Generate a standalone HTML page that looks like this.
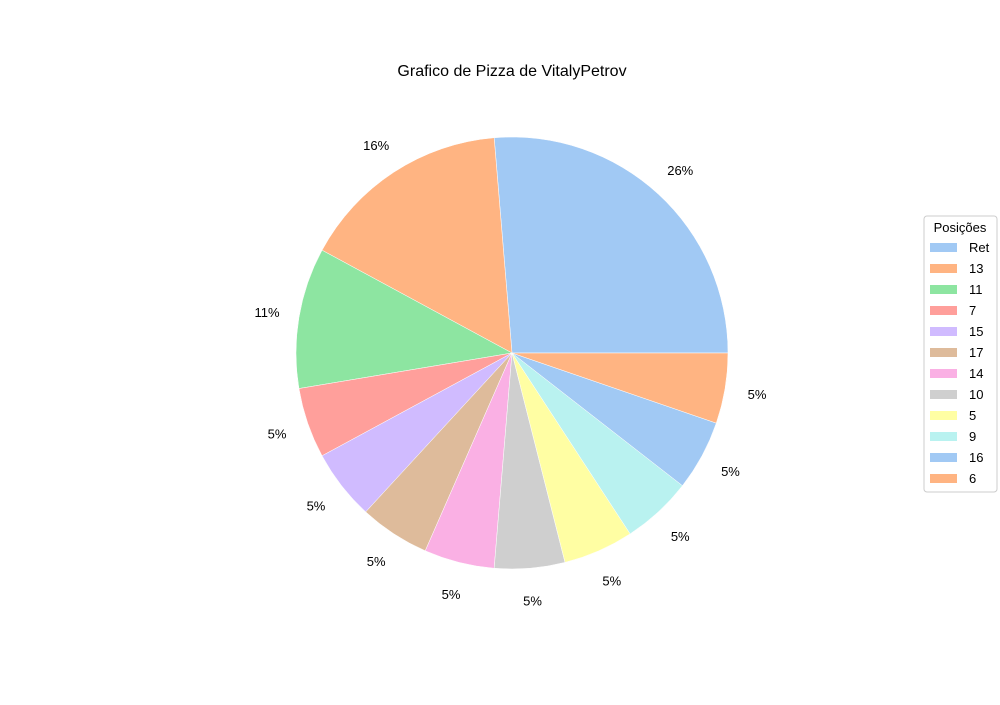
<!DOCTYPE html>
<html><head><meta charset="utf-8">
<style>
body{margin:0;background:#fff;}
svg text{font-family:"Liberation Sans","DejaVu Sans",sans-serif;}
</style></head>
<body>
<svg id="chart" width="1000" height="700" viewBox="0 0 1000 700" xmlns="http://www.w3.org/2000/svg">
<rect width="1000" height="700" fill="#fff"/>
<text x="512" y="76" text-anchor="middle" font-size="16" fill="#000">Grafico de Pizza de VitalyPetrov</text>
<g id="slices"></g>
<g id="labels"></g>
<g id="legend">
<rect x="924" y="216" width="73" height="276" rx="3" fill="#fff" stroke="#ccc"/>
<text x="960" y="232" text-anchor="middle" font-size="13" fill="#000">Posições</text>
</g>
</svg>
<script>
const categories = ["Ret","13","11","7","15","17","14","10","5","9","16","6"];
const values = [5,3,2,1,1,1,1,1,1,1,1,1];
const colors = ["#a1c9f4","#ffb482","#8de5a1","#ff9f9b","#d0bbff","#debb9b","#fab0e4","#cfcfcf","#fffea3","#b9f2f0","#a1c9f4","#ffb482"];
const NS="http://www.w3.org/2000/svg";
const cx=512, cy=353, R=216;
const total=values.reduce((a,b)=>a+b,0);
const gs=document.getElementById('slices'), gl=document.getElementById('labels'), lg=document.getElementById('legend');
let a0=0;
values.forEach((v,i)=>{
  const a1=a0+v/total*2*Math.PI;
  const x0=cx+R*Math.cos(a0), y0=cy-R*Math.sin(a0);
  const x1=cx+R*Math.cos(a1), y1=cy-R*Math.sin(a1);
  const large=(a1-a0)>Math.PI?1:0;
  const p=document.createElementNS(NS,'path');
  p.setAttribute('d',`M${cx},${cy} L${x0},${y0} A${R},${R} 0 ${large} 0 ${x1},${y1} Z`);
  p.setAttribute('fill',colors[i]);
  p.setAttribute('stroke','#fff');
  p.setAttribute('stroke-width','0.5');
  
  
  gs.appendChild(p);
  const am=(a0+a1)/2;
  const t=document.createElementNS(NS,'text');
  t.setAttribute('x',cx+R*1.15*Math.cos(am));
  t.setAttribute('y',cy-R*1.15*Math.sin(am)+5);
  t.setAttribute('text-anchor','middle');
  t.setAttribute('font-size','13');
  t.textContent=Math.round(v/total*100)+'%';
  
  
  gl.appendChild(t);
  const y=247+i*21;
  const r=document.createElementNS(NS,'rect');
  r.setAttribute('x',930);r.setAttribute('y',y-4);r.setAttribute('width',27);r.setAttribute('height',9);
  r.setAttribute('fill',colors[i]);
  
  
  lg.appendChild(r);
  const lt=document.createElementNS(NS,'text');
  lt.setAttribute('x',969);lt.setAttribute('y',y+5);lt.setAttribute('font-size','13');
  lt.textContent=categories[i];
  
  
  lg.appendChild(lt);
  a0=a1;
});
</script>
</body></html>
